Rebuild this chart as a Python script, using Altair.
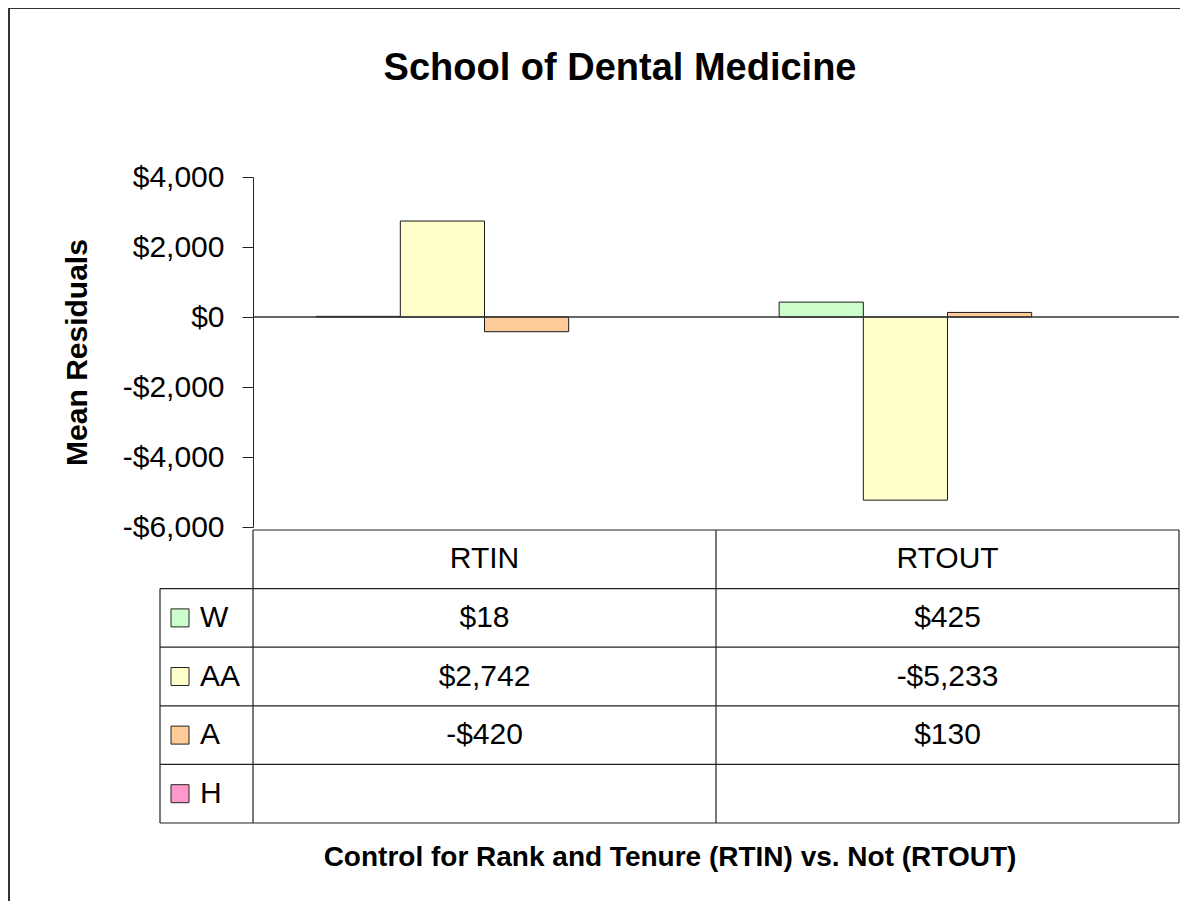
import altair as alt
import pandas as pd

# ---- data ----
categories = ["RTIN", "RTOUT"]
series = ["W", "AA", "A", "H"]
w_values = [18, 425]
aa_values = [2742, -5233]
a_values = [-420, 130]
h_values = [None, None]
series_colors = ["#CCFFCC", "#FFFFCC", "#FFCC99", "#FF99CC"]
y_ticks = [-6000, -4000, -2000, 0, 2000, 4000]

title_text = "School of Dental Medicine"
y_title = "Mean Residuals"
x_title = "Control for Rank and Tenure (RTIN) vs. Not (RTOUT)"

values_by_series = {"W": w_values, "AA": aa_values, "A": a_values, "H": h_values}


def money(v):
    return f"-${abs(v):,}" if v < 0 else f"${v:,}"


cell_rows = []
for si, s in enumerate(series):
    for ci, c in enumerate(categories):
        v = values_by_series[s][ci]
        cell_rows.append({"cat": c, "series": s, "value": v,
                          "label": money(v) if v is not None else "",
                          "pos": si + 1.5})
cells = pd.DataFrame(cell_rows)
bars_df = cells.dropna(subset=["value"])
header_df = pd.DataFrame({"cat": categories, "pos": [0.5] * len(categories)})
legend_df = pd.DataFrame({"series": series, "pos": [i + 1.5 for i in range(len(series))]})
nrows = len(series) + 1

FONT = "Liberation Sans"
W, H = 926, 350

x_scale = alt.Scale(domain=categories, paddingInner=0, paddingOuter=0)
off_scale = alt.Scale(domain=series, paddingInner=0, paddingOuter=0.75)
y_scale = alt.Scale(domain=[-6000, 4000], nice=False, zero=False)
row_scale = alt.Scale(domain=[0, nrows], range=[353, 646], nice=False, zero=False)
color_scale = alt.Scale(domain=series, range=series_colors)

one = pd.DataFrame({"a": [0]})

frame = alt.Chart(one).mark_rect(fill="white", stroke="#333333", strokeWidth=2).encode(
    x=alt.value(-244), x2=alt.value(W + 60), y=alt.value(-169), y2=alt.value(H + 500)
)

title = alt.Chart(one).mark_text(font=FONT, fontSize=38, fontWeight="bold", color="black",
                                 align="center", baseline="middle").encode(
    x=alt.value(367), y=alt.value(-108), text=alt.value(title_text)
)

xtitle = alt.Chart(one).mark_text(font=FONT, fontSize=28, fontWeight="bold", color="black",
                                  align="center", baseline="middle").encode(
    x=alt.value(417), y=alt.value(681), text=alt.value(x_title)
)

label_expr = "datum.value < 0 ? '-$' + format(-datum.value, ',') : '$' + format(datum.value, ',')"

bars = alt.Chart(bars_df).mark_bar(stroke="#1a1a1a", strokeWidth=1).encode(
    x=alt.X("cat:N", scale=x_scale, axis=None),
    xOffset=alt.XOffset("series:N", scale=off_scale),
    y=alt.Y("value:Q", scale=y_scale,
            axis=alt.Axis(values=y_ticks, title=y_title, grid=False, labelExpr=label_expr,
                          labelFont=FONT, labelFontSize=30, labelColor="black", labelPadding=18,
                          tickSize=11, tickColor="#222222", domainColor="#222222",
                          titleFont=FONT, titleFontSize=30, titleFontWeight="bold",
                          titleColor="black", titleAngle=270, titleX=-176, titleY=H / 2,
                          titleAlign="center", titleBaseline="middle", zindex=2)),
    color=alt.Color("series:N", scale=color_scale, legend=None),
)

zero_rule = alt.Chart(one).mark_rule(color="#333333", strokeWidth=1.5).encode(
    y=alt.YDatum(0, scale=y_scale, axis=None), x=alt.value(0), x2=alt.value(W)
)

# table grid lines
hb_top = pd.DataFrame({"b": [0]})
hb_rows = pd.DataFrame({"b": list(range(1, nrows + 1))})
hline_top = alt.Chart(hb_top).mark_rule(color="#222222", strokeWidth=1.2).encode(
    y=alt.Y("b:Q", scale=row_scale, axis=None), x=alt.value(0), x2=alt.value(W)
)
hline_rows = alt.Chart(hb_rows).mark_rule(color="#222222", strokeWidth=1.2).encode(
    y=alt.Y("b:Q", scale=row_scale, axis=None), x=alt.value(-93), x2=alt.value(W)
)
vspan_full = pd.DataFrame({"b0": [0], "b1": [nrows]})
vspan_leg = pd.DataFrame({"b0": [1], "b1": [nrows]})
vline_axis = alt.Chart(vspan_full).mark_rule(color="#222222", strokeWidth=1.2).encode(
    x=alt.value(0), y=alt.Y("b0:Q", scale=row_scale, axis=None), y2="b1:Q"
)
vline_right = alt.Chart(vspan_full).mark_rule(color="#222222", strokeWidth=1.2).encode(
    x=alt.value(W), y=alt.Y("b0:Q", scale=row_scale, axis=None), y2="b1:Q"
)
vline_left = alt.Chart(vspan_leg).mark_rule(color="#222222", strokeWidth=1.2).encode(
    x=alt.value(-93), y=alt.Y("b0:Q", scale=row_scale, axis=None), y2="b1:Q"
)
vline_cat = alt.Chart(pd.DataFrame({"cat": categories[1:], "b0": [0], "b1": [nrows]})).mark_rule(
    color="#222222", strokeWidth=1.2).encode(
    x=alt.X("cat:N", scale=x_scale, bandPosition=0, axis=None),
    y=alt.Y("b0:Q", scale=row_scale, axis=None), y2="b1:Q"
)

header_text = alt.Chart(header_df).mark_text(font=FONT, fontSize=30, color="black",
                                             align="center", baseline="middle").encode(
    x=alt.X("cat:N", scale=x_scale, axis=None),
    y=alt.Y("pos:Q", scale=row_scale, axis=None),
    text="cat:N",
)
cell_text = alt.Chart(cells).mark_text(font=FONT, fontSize=30, color="black",
                                       align="center", baseline="middle").encode(
    x=alt.X("cat:N", scale=x_scale, axis=None),
    y=alt.Y("pos:Q", scale=row_scale, axis=None),
    text="label:N",
)
legend_sq = alt.Chart(legend_df).mark_square(size=324, stroke="#222222", strokeWidth=1,
                                              opacity=1, filled=True).encode(
    x=alt.value(-73),
    y=alt.Y("pos:Q", scale=row_scale, axis=None),
    fill=alt.Fill("series:N", scale=color_scale, legend=None),
)
legend_txt = alt.Chart(legend_df).mark_text(font=FONT, fontSize=30, color="black",
                                            align="left", baseline="middle").encode(
    x=alt.value(-53),
    y=alt.Y("pos:Q", scale=row_scale, axis=None),
    text="series:N",
)

chart = alt.layer(
    frame, title, xtitle, bars, zero_rule,
    hline_top, hline_rows, vline_axis, vline_right, vline_left, vline_cat,
    header_text, cell_text, legend_sq, legend_txt,
).resolve_scale(y="independent").properties(
    width=W, height=H,
    autosize=alt.AutoSizeParams(type="none"),
    padding={"left": 245, "top": 169, "right": 1, "bottom": 374},
    background="#eeeeee",
).configure_view(stroke=None)

chart.save("out.html", embed_options={"renderer": "svg", "actions": False})
